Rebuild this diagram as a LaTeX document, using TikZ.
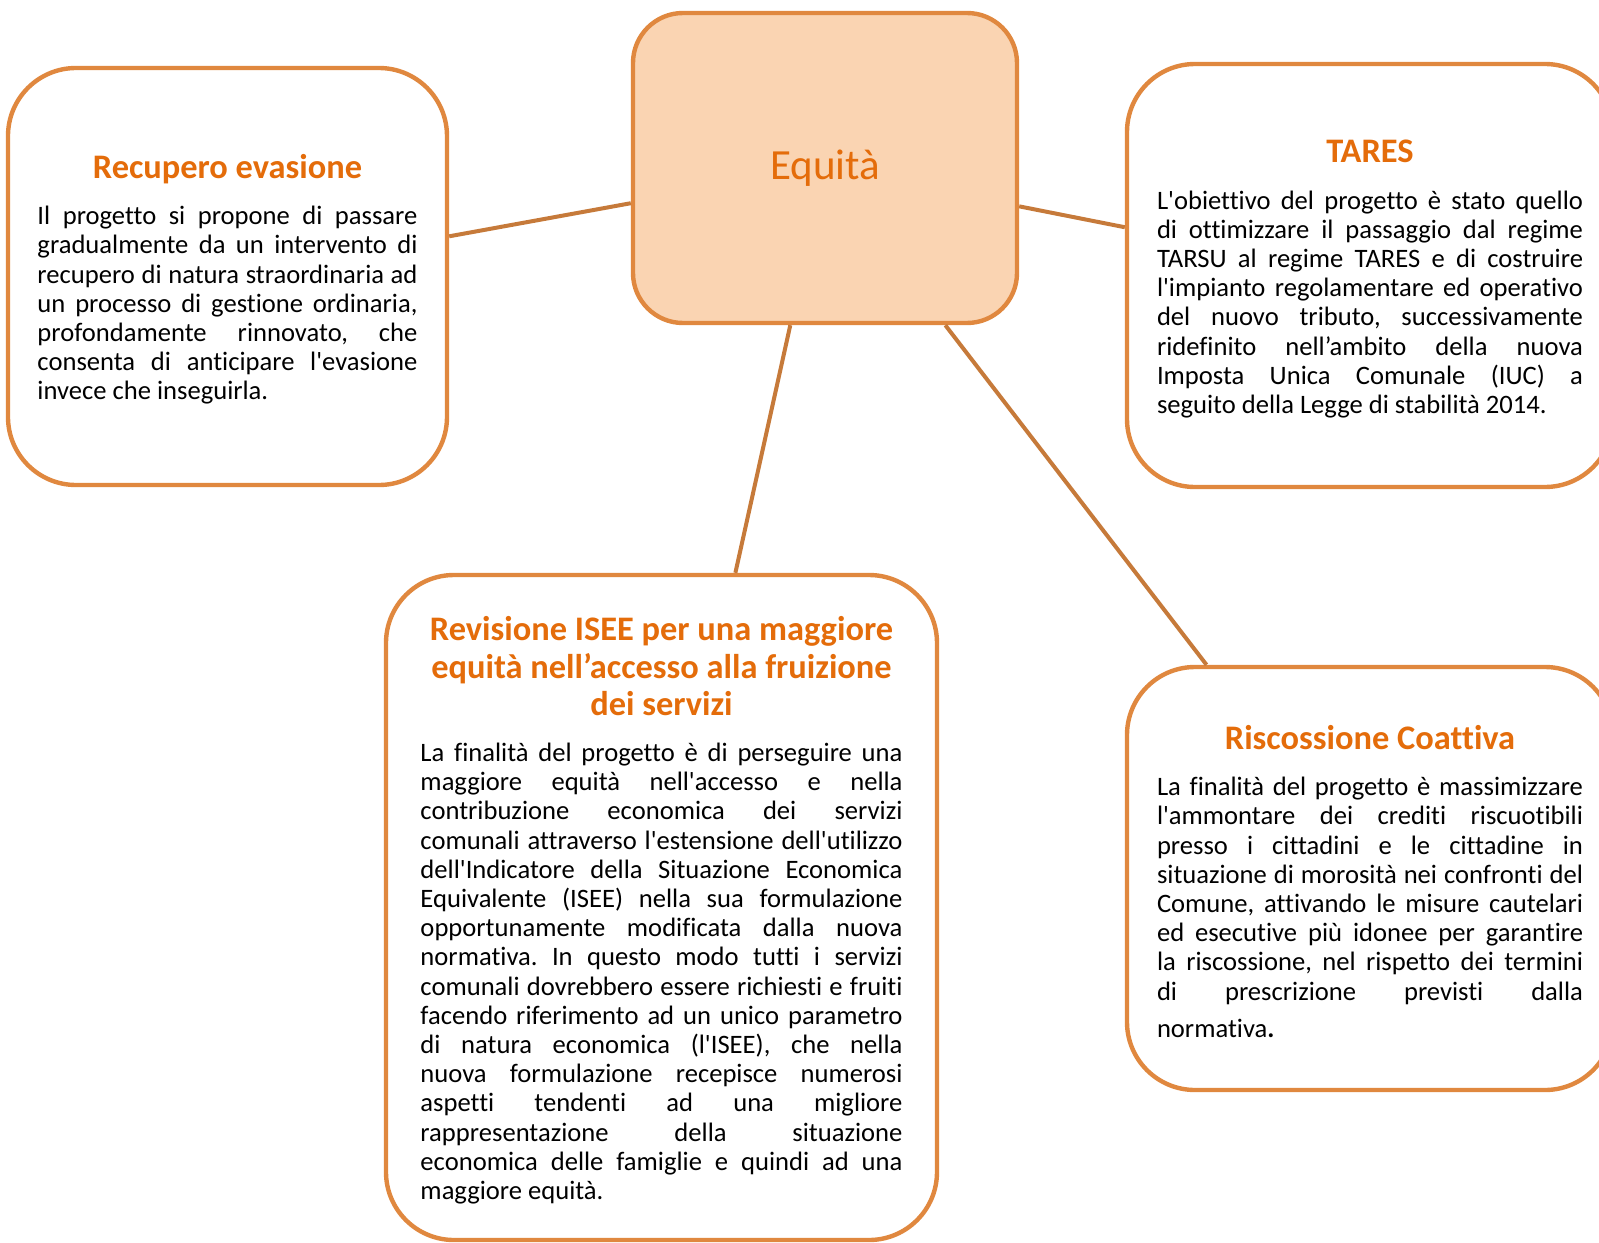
\documentclass[tikz,border=0pt]{standalone}
\usepackage{xcolor}
\usepackage{fontspec}
\setmainfont{Carlito}[Ligatures={TeXOff,NoCommon}]
\usepackage{tikz}

\definecolor{boxline}{HTML}{E0883F}
\definecolor{linkline}{HTML}{C67A3A}
\definecolor{hubfill}{HTML}{FAD4B2}
\definecolor{headorange}{HTML}{E46C0A}

\tolerance=10000
\hbadness=10000
\frenchspacing

\newcommand{\boxhead}[1]{{\centering\color{headorange}\bfseries\fontsize{17.2pt}{18.6pt}\selectfont\rule{0pt}{15pt}#1\par}\vspace{8.5pt}}

\begin{document}
\begin{tikzpicture}[node distance=272.5pt,
  topic/.style={rectangle, rounded corners=34pt, draw=boxline, line width=2.2pt, fill=white, align=justify, inner sep=0pt, font=\fontsize{13.3pt}{14.6pt}\selectfont},
  hub/.style={rectangle, rounded corners=25pt, draw=boxline, line width=2.2pt, fill=hubfill, inner sep=0pt, minimum width=192pt, minimum height=155pt, text=headorange, font=\fontsize{21.5pt}{24pt}\selectfont},
  link/.style={draw=linkline, line width=2pt}]
\useasboundingbox (-412.5pt,84pt) rectangle (387pt,-537pt);

\node (equita) [hub] at (0,0) {\raisebox{-1pt}{Equità}};
\node (tares) [topic, text width=213pt, minimum width=243pt, minimum height=211.5pt, right of=equita, yshift=-53.75pt] {\boxhead{TARES}L'obiettivo del progetto è stato quello\linebreak di ottimizzare il passaggio dal regime\linebreak TARSU al regime TARES e di costruire\linebreak l'impianto regolamentare ed operativo\linebreak del nuovo tributo, successivamente\linebreak ridefinito nell’ambito della nuova\linebreak Imposta Unica Comunale (IUC) a\linebreak seguito della Legge di stabilità 2014.};
\node (riscossione) [topic, text width=213pt, minimum width=243pt, minimum height=211.5pt, below of=tares, yshift=-29pt] {\boxhead{Riscossione Coattiva}La finalità del progetto è massimizzare\linebreak l'ammontare dei crediti riscuotibili\linebreak presso i cittadini e le cittadine in\linebreak situazione di morosità nei confronti del\linebreak Comune, attivando le misure cautelari\linebreak ed esecutive più idonee per garantire\linebreak la riscossione, nel rispetto dei termini\linebreak di prescrizione previsti dalla{\parfillskip=0pt\par}\vspace{4pt}normativa{\bfseries.}};
\node (recupero) [topic, text width=190pt, minimum width=219.5pt, minimum height=208.5pt, left of=equita, xshift=-26.25pt, yshift=-54.25pt] {\boxhead{Recupero evasione}Il progetto si propone di passare\linebreak gradualmente da un intervento di\linebreak recupero di natura straordinaria ad\linebreak un processo di gestione ordinaria,\linebreak profondamente rinnovato, che\linebreak consenta di anticipare l'evasione\linebreak invece che inseguirla.};
\node (isee) [topic, text width=241pt, minimum width=275.5pt, minimum height=332.5pt, below of=equita, xshift=-81.75pt, yshift=-97.25pt] {\boxhead{Revisione ISEE per una maggiore\\ equità nell’accesso alla fruizione\\ dei servizi}La finalità del progetto è di perseguire una\linebreak maggiore equità nell'accesso e nella\linebreak contribuzione economica dei servizi\linebreak comunali attraverso l'estensione dell'utilizzo\linebreak dell'Indicatore della Situazione Economica\linebreak Equivalente (ISEE) nella sua formulazione\linebreak opportunamente modificata dalla nuova\linebreak normativa. In questo modo tutti i servizi\linebreak comunali dovrebbero essere richiesti e fruiti\linebreak facendo riferimento ad un unico parametro\linebreak di natura economica (l'ISEE), che nella\linebreak nuova formulazione recepisce numerosi\linebreak aspetti tendenti ad una migliore\linebreak rappresentazione della situazione\linebreak economica delle famiglie e quindi ad una\linebreak maggiore equità.};

\draw[link] (equita) -- (recupero);
\draw[link] (equita) -- (tares);
\draw[link] (equita) -- (isee);
\draw[link] (equita) -- (riscossione);
\end{tikzpicture}
\end{document}
